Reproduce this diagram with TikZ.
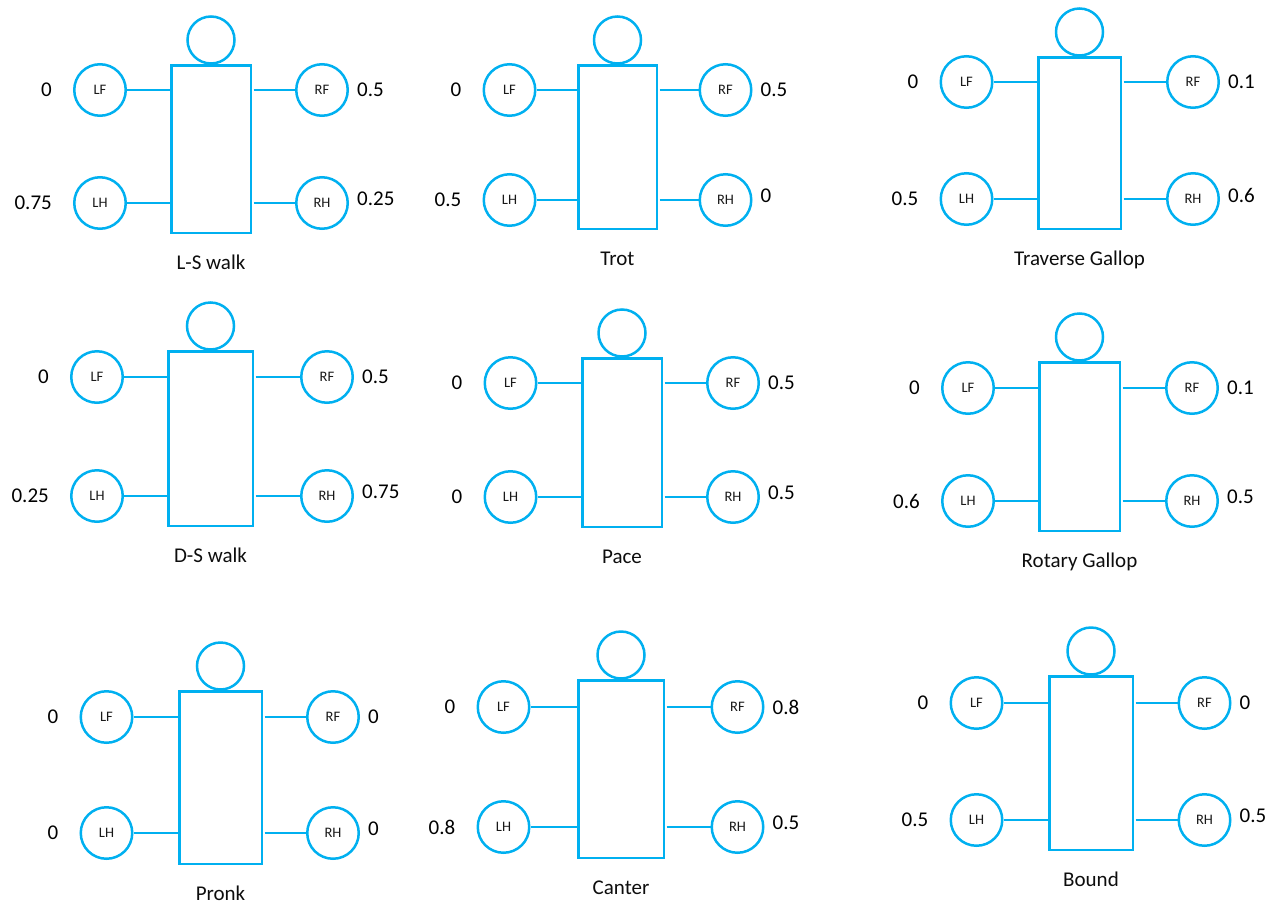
\documentclass[tikz,border=0pt]{standalone}
\usepackage{fontspec}
\setmainfont{Carlito}
\definecolor{gaitblue}{RGB}{0,176,240}
\tikzset{
  body/.style={rectangle, draw=gaitblue, line width=2.5pt, inner sep=0pt},
  headc/.style={circle, draw=gaitblue, line width=2.5pt, minimum size=47pt, inner sep=0pt},
  leg/.style={circle, draw=gaitblue, line width=2.5pt, minimum size=51.5pt, inner sep=0pt,
              font=\fontsize{14.5}{16}\selectfont, text=black!90},
  limb/.style={draw=gaitblue, line width=2.5pt},
  phase/.style={font=\fontsize{21}{23}\selectfont, text=black, inner sep=0pt},
  gaitname/.style={font=\fontsize{21}{23}\selectfont, text=black!95, inner sep=0pt, anchor=base}
}
% #1 prefix, #2 left, #3 top, #4 right, #5 bottom of the body,
% #6 x of left legs, #7 x of right legs, #8 y of front legs, #9 y of hind legs
\newcommand\gaitbody[9]{%
  \node[body, minimum width={#4-#2-2.5}, minimum height={#5-#3-2.5}]
    (#1b) at ({(#2+#4)/2},{(#3+#5)/2}) {};
  \node[headc] (#1hd) at ({(#2+#4)/2},{#3-24}) {};
  \node[leg] (#1LF) at (#6,#8) {LF};
  \node[leg] (#1LH) at (#6,#9) {LH};
  \node[leg] (#1RF) at (#7,#8) {RF};
  \node[leg] (#1RH) at (#7,#9) {RH};
  \draw[limb] (#1LF) -- (#1LF -| #1b.west);
  \draw[limb] (#1LH) -- (#1LH -| #1b.west);
  \draw[limb, shorten <=1.5pt] (#1RF -| #1b.east) -- (#1RF);
  \draw[limb, shorten <=1.5pt] (#1RH -| #1b.east) -- (#1RH);
}
% #1 prefix, #2..#5 phases of LF, LH, RF, RH, #6 gait name
\newcommand\gaittext[6]{%
  \node[phase, anchor=east] (#1pLF) at ([xshift=-21pt]#1LF.west) {#2};
  \node[phase, anchor=east] (#1pLH) at ([xshift=-21pt]#1LH.west) {#3};
  \node[phase, anchor=west] (#1pRF) at ([xshift=8pt]#1RF.east) {#4};
  \node[phase, anchor=west] (#1pRH) at ([xshift=8pt,yshift=4pt]#1RH.east) {#5};
  \node[gaitname] (#1name) at ([yshift=-35pt]#1b.south) {#6};
}
\begin{document}
\begin{tikzpicture}[x=1pt, y=-1pt]
\useasboundingbox (0,0) rectangle (1279,905);

% top row
\gaitbody{a}{170}{64}{252}{234}{100}{322}{90}{203}
\gaittext{a}{0}{0.75}{0.5}{0.25}{L-S walk}
\gaitbody{b}{577}{64}{658}{230}{509.5}{725.5}{90}{200}
\gaittext{b}{0}{0.5}{0.5}{0}{Trot}
\gaitbody{c}{1037}{56}{1122}{230}{966.5}{1193}{82}{199}
\gaittext{c}{0}{0.5}{0.1}{0.6}{Traverse Gallop}

% middle row
\gaitbody{d}{167}{350}{254}{527}{97}{327}{377}{496}
\gaittext{d}{0}{0.25}{0.5}{0.75}{D-S walk}
\gaitbody{e}{581}{357}{663}{528}{510.5}{733}{383}{497}
\gaittext{e}{0}{0}{0.5}{0.5}{Pace}
\gaitbody{f}{1038}{361}{1121}{532}{968}{1192}{388}{501}
\gaittext{f}{0}{0.6}{0.1}{0.5}{Rotary Gallop}

% bottom row
\gaitbody{g}{178}{690}{263}{865}{106.5}{333}{717}{833}
\gaittext{g}{0}{0}{0}{0}{Pronk}
\gaitbody{h}{577}{679}{665}{859}{503.5}{737.5}{707}{827}
\gaittext{h}{0}{0.8}{0.8}{0.5}{Canter}
\gaitbody{i}{1048}{675}{1134}{851}{976.5}{1204.5}{703}{820}
\gaittext{i}{0}{0.5}{0}{0.5}{Bound}
\end{tikzpicture}
\end{document}
